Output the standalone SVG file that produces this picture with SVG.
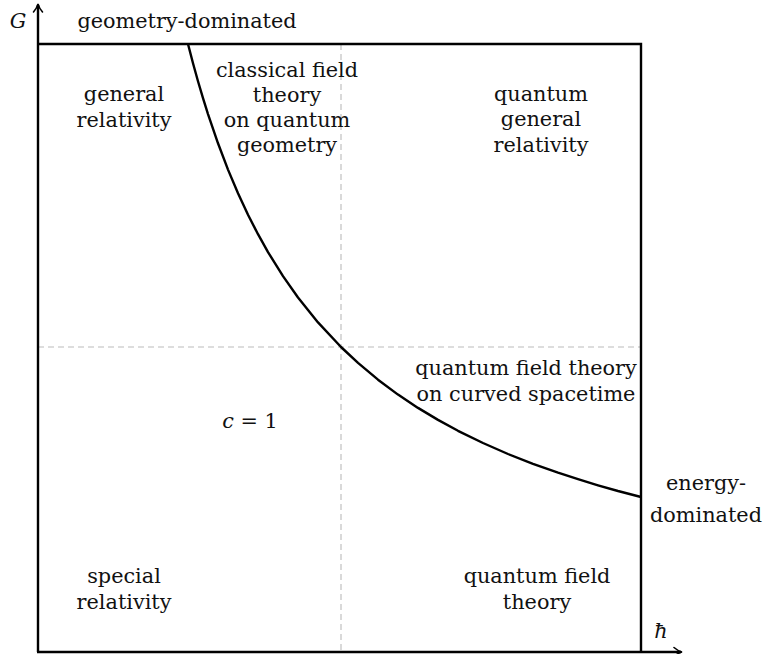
<svg xmlns="http://www.w3.org/2000/svg" width="763" height="654" viewBox="0 0 763 654">
<style>
.t{font-family:"DejaVu Serif","Liberation Serif",serif;font-size:20.8px;fill:#111;text-anchor:middle}
.i{font-style:italic}
.ax{stroke:#000;stroke-width:2.4;fill:none}
.dash{stroke:#bbb;stroke-width:1.1;stroke-dasharray:6 4;fill:none}
.curve{stroke:#000;stroke-width:2.4;fill:none;stroke-linejoin:round}
</style>
<defs>
<marker id="arr" viewBox="0 0 12 12" refX="9" refY="6" markerWidth="12" markerHeight="12" markerUnits="userSpaceOnUse" orient="auto">
<path d="M2,1.5 Q6,5 10,6 Q6,7 2,10.5" fill="none" stroke="#000" stroke-width="1.6" stroke-linecap="round"/>
</marker>
</defs>
<g id="grid">
<line class="dash" x1="341" y1="44" x2="341" y2="652"/>
<line class="dash" x1="38" y1="347" x2="641" y2="347"/>
</g>
<g id="axes">
<line class="ax" x1="38" y1="652" x2="38" y2="5" marker-end="url(#arr)"/>
<line class="ax" x1="37" y1="652" x2="681" y2="652" marker-end="url(#arr)"/>
<polyline class="ax" points="38,44 641,44 641,652"/>
</g>
<g id="connectors">
<polyline class="curve" points="188,44 193,63.2 198,81.2 203,98.1 208,114.1 218,143.3 228,169.6 238,193.3 248,214.7 258,234.2 268,252.1 283,276.1 298,297.5 318,322.4 341,347 358,362.9 378,379.7 398,394.6 418,407.9 438,419.9 458,430.8 483,443 508,454 533,463.8 558,472.7 578,479.2 598,485.3 618,491 641,497"/>
</g>
<g id="axis-labels">
<text class="t i" x="18" y="28">G</text>
<text class="t i" x="661" y="638">ħ</text>
</g>
<g id="geometry-dominated"><text class="t" x="187" y="28">geometry-dominated</text></g>
<g id="general-relativity"><text class="t" x="124" y="101">general</text><text class="t" x="124" y="127">relativity</text></g>
<g id="classical-field-theory"><text class="t" x="287" y="77">classical field</text><text class="t" x="287" y="102">theory</text><text class="t" x="287" y="127">on quantum</text><text class="t" x="287" y="152">geometry</text></g>
<g id="quantum-general-relativity"><text class="t" x="541" y="101">quantum</text><text class="t" x="541" y="126">general</text><text class="t" x="541" y="152">relativity</text></g>
<g id="qft-curved"><text class="t" x="526" y="375">quantum field theory</text><text class="t" x="526" y="401">on curved spacetime</text></g>
<g id="c1"><text class="t" x="250" y="428"><tspan class="i">c</tspan> = 1</text></g>
<g id="energy-dominated"><text class="t" x="706" y="490">energy-</text><text class="t" x="706" y="522">dominated</text></g>
<g id="special-relativity"><text class="t" x="124" y="583">special</text><text class="t" x="124" y="609">relativity</text></g>
<g id="qft"><text class="t" x="537" y="583">quantum field</text><text class="t" x="537" y="609">theory</text></g>
</svg>
